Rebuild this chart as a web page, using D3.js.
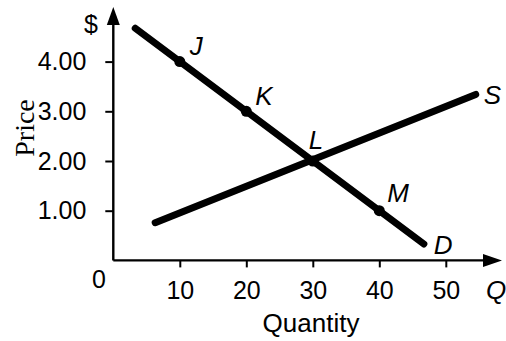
<!DOCTYPE html>
<html><head><meta charset="utf-8">
<script src="https://cdn.jsdelivr.net/npm/d3@7"></script>
<style>
body{margin:0;background:#fff;}
svg{display:block;font-family:"Liberation Sans",Arial,sans-serif;}
</style></head><body>
<svg id="c" width="506" height="341"></svg>
<script>
const xTicks = [10, 20, 30, 40, 50];
const yTicks = [1, 2, 3, 4];
const yTickLabels = ["1.00", "2.00", "3.00", "4.00"];
const demandQ = [3.3, 46.7];
const demandP = [4.67, 0.33];
const supplyQ = [6.3, 54.5];
const supplyP = [0.76, 3.34];
const pointNames = ["J", "K", "L", "M"];
const pointQ = [10, 20, 30, 40];
const pointP = [4, 3, 2, 1];

const svg = d3.select("#c");
const x = d3.scaleLinear().domain([0, 50]).range([113.3, 445.8]);
const y = d3.scaleLinear().domain([0, 4]).range([260.4, 61.6]);
const xEnd = 502, yEnd = 7;
const FS = 25;

// x axis
const gx = svg.append("g").attr("transform", `translate(0,${y(0)})`)
  .call(d3.axisBottom(x).tickValues(xTicks).tickSize(7).tickPadding(14).tickFormat(d3.format("d")));
gx.select(".domain").remove();
gx.selectAll(".tick line").attr("stroke", "#000").attr("stroke-width", 2);
gx.selectAll(".tick text").attr("font-size", FS).attr("fill", "#000")
  .attr("font-family", "Liberation Sans, Arial, sans-serif");

// y axis
const gy = svg.append("g").attr("transform", `translate(${x(0)},0)`)
  .call(d3.axisLeft(y).tickValues(yTicks).tickSize(8).tickPadding(19).tickFormat((d, i) => yTickLabels[i]));
gy.select(".domain").remove();
gy.selectAll(".tick line").attr("stroke", "#000").attr("stroke-width", 2);
gy.selectAll(".tick text").attr("font-size", FS).attr("fill", "#000")
  .attr("font-family", "Liberation Sans, Arial, sans-serif");

// axis lines
svg.append("path").attr("d", `M${x(0)},${y(0)}H${xEnd - 12}M${x(0)},${y(0)}V${yEnd + 12}`)
  .attr("stroke", "#000").attr("stroke-width", 2.4).attr("fill", "none");
// arrows
svg.append("path").attr("d", `M${xEnd},${y(0)}L${xEnd - 19},${y(0) - 6.5}L${xEnd - 19},${y(0) + 6.5}Z`).attr("fill", "#000");
svg.append("path").attr("d", `M${x(0)},${yEnd}L${x(0) - 6.5},${yEnd + 18}L${x(0) + 6.5},${yEnd + 18}Z`).attr("fill", "#000");

const line = d3.line().x(d => x(d[0])).y(d => y(d[1]));
svg.append("path").attr("d", line(supplyQ.map((q, i) => [q, supplyP[i]])))
  .attr("stroke", "#000").attr("stroke-width", 7).attr("stroke-linecap", "round").attr("fill", "none");
svg.append("path").attr("d", line(demandQ.map((q, i) => [q, demandP[i]])))
  .attr("stroke", "#000").attr("stroke-width", 7).attr("stroke-linecap", "round").attr("fill", "none");

svg.selectAll("circle.pt").data(pointQ).join("circle").attr("class", "pt")
  .attr("cx", d => x(d)).attr("cy", (d, i) => y(pointP[i])).attr("r", 5.5).attr("fill", "#000");

// point labels
const offs = [[10, -7], [9, -6], [-4, -12], [8, -9]];
svg.selectAll("text.pl").data(pointNames).join("text").attr("class", "pl")
  .attr("x", (d, i) => x(pointQ[i]) + offs[i][0]).attr("y", (d, i) => y(pointP[i]) + offs[i][1])
  .attr("font-size", 26).attr("font-style", "italic").text(d => d);

svg.append("text").attr("x", x(demandQ[1]) + 10).attr("y", y(demandP[1]) + 10)
  .attr("font-size", 26).attr("font-style", "italic").text("D");
svg.append("text").attr("x", x(supplyQ[1]) + 8).attr("y", y(supplyP[1]) + 10)
  .attr("font-size", 26).attr("font-style", "italic").text("S");
svg.append("text").attr("x", 486).attr("y", 299)
  .attr("font-size", 26).attr("font-style", "italic").text("Q");
svg.append("text").attr("x", 91).attr("y", 33).attr("text-anchor", "middle")
  .attr("font-size", FS).text("$");
svg.append("text").attr("x", 99).attr("y", 288).attr("text-anchor", "middle")
  .attr("font-size", FS).text("0");
svg.append("text").attr("x", 311).attr("y", 332).attr("text-anchor", "middle")
  .attr("font-size", 26).text("Quantity");
svg.append("text").attr("transform", "translate(34,128) rotate(-90)").attr("text-anchor", "middle")
  .attr("font-family", "Liberation Serif, Times New Roman, serif").attr("font-size", 28).text("Price");
</script>
</body></html>
